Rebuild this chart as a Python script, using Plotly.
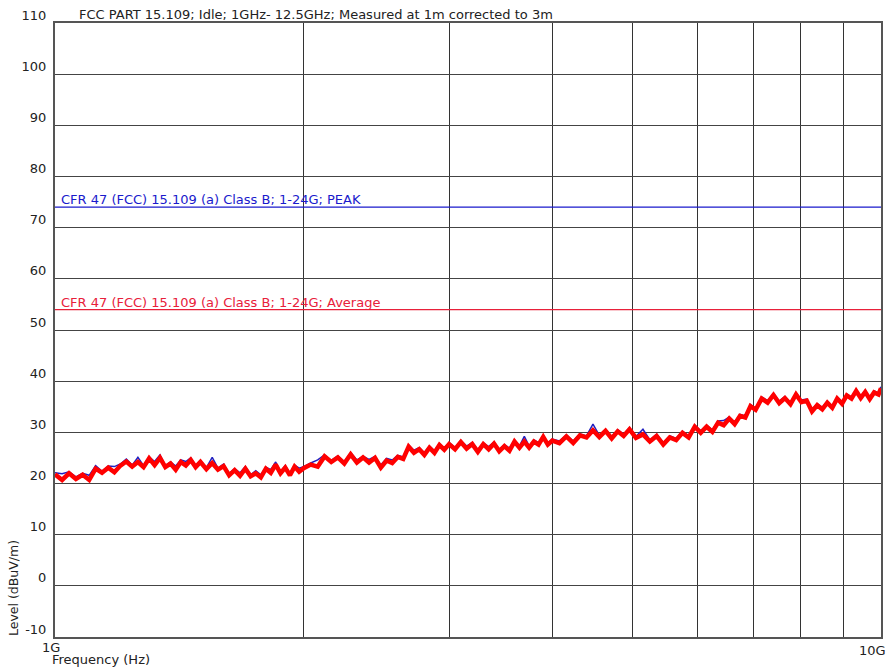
import plotly.graph_objects as go

# ---------------- data ----------------
freq_ghz = [
    1.00, 1.02, 1.04, 1.06, 1.08, 1.10, 1.12, 1.14, 1.16, 1.18, 1.20, 1.22, 1.24,
    1.26, 1.28, 1.30, 1.32, 1.34, 1.36, 1.38, 1.40, 1.42, 1.44, 1.46, 1.48, 1.50,
    1.525, 1.55, 1.575, 1.60, 1.625, 1.65, 1.675, 1.70, 1.725, 1.75, 1.775, 1.80,
    1.825, 1.85, 1.875, 1.90, 1.925, 1.95, 1.975, 2.00,
    2.04, 2.08, 2.12, 2.16, 2.20, 2.24, 2.28, 2.32, 2.36, 2.40, 2.44, 2.48, 2.52,
    2.56, 2.60, 2.64, 2.68, 2.72, 2.76, 2.80, 2.84, 2.88, 2.92, 2.96, 3.00,
    3.05, 3.10, 3.15, 3.20, 3.25, 3.30, 3.35, 3.40, 3.45, 3.50, 3.55, 3.60, 3.65,
    3.70, 3.75, 3.80, 3.85, 3.90, 3.95, 4.00,
    4.08, 4.16, 4.24, 4.32, 4.40, 4.48, 4.56, 4.64, 4.72, 4.80, 4.88, 4.96,
    5.05, 5.15, 5.25, 5.35, 5.45, 5.55, 5.65, 5.75, 5.85, 5.95, 6.05, 6.15, 6.25,
    6.35, 6.45, 6.55, 6.65, 6.75, 6.85, 6.95,
    7.05, 7.17, 7.29, 7.41, 7.53, 7.65, 7.77, 7.89, 8.01, 8.13, 8.25, 8.37, 8.49,
    8.61, 8.73, 8.85, 8.97, 9.09, 9.21, 9.33, 9.45, 9.57, 9.69, 9.81, 9.93, 10.0,
]

average_level = [
    21.8, 20.7, 22.0, 20.9, 21.7, 20.7, 22.9, 22.1, 23.1, 22.2, 23.5, 24.3, 23.3,
    24.2, 23.2, 24.9, 23.6, 25.0, 23.2, 23.9, 22.7, 24.2, 23.5, 24.6, 23.2, 24.2,
    22.8, 24.0, 22.7, 23.4, 21.6, 22.6, 21.5, 22.9, 21.4, 22.0, 21.2, 22.9,
    22.1, 23.7, 22.0, 23.1, 21.6, 23.3, 22.3, 23.0,
    23.7, 23.3, 25.3, 24.2, 25.1, 23.9, 25.7, 24.1, 25.1, 24.1, 25.0, 23.1, 24.5,
    24.0, 25.2, 24.8, 27.2, 26.0, 26.7, 25.6, 27.0, 26.0, 27.5, 26.6, 27.7,
    26.7, 28.1, 26.8, 27.7, 26.2, 27.7, 26.7, 27.8, 26.3, 27.3, 26.4, 28.2, 27.0,
    28.2, 27.0, 28.2, 27.6, 29.1, 27.6, 28.4,
    27.9, 29.2, 27.9, 29.4, 29.0, 30.4, 29.1, 30.3, 28.8, 30.2, 29.3, 30.6,
    28.9, 29.6, 28.2, 29.3, 27.6, 29.0, 28.5, 29.9, 29.0, 31.1, 29.9, 31.1, 30.1,
    31.9, 31.4, 32.7, 31.6, 33.2, 32.9, 35.1,
    34.4, 36.6, 35.8, 37.3, 35.7, 36.7, 35.5, 37.4, 35.9, 36.2, 34.1, 35.3, 34.5,
    35.8, 34.8, 36.6, 35.6, 37.2, 36.6, 38.1, 36.7, 37.9, 36.5, 37.8, 37.4, 38.6,
]

peak_level = [
    22.1, 21.9, 22.3, 21.3, 22.0, 21.6, 23.5, 22.4, 23.4, 23.3, 23.8, 24.8, 23.6,
    25.1, 23.5, 25.2, 24.3, 25.6, 23.5, 24.2, 23.4, 24.6, 24.3, 25.0, 23.5, 24.5,
    23.1, 25.1, 23.0, 23.8, 22.0, 22.9, 22.1, 23.3, 21.7, 22.5, 21.7, 23.2,
    22.7, 24.2, 22.3, 23.5, 22.0, 23.6, 23.0, 23.3,
    24.0, 24.6, 25.6, 24.5, 25.4, 24.3, 26.0, 24.6, 25.3, 24.7, 25.3, 23.6, 24.9,
    24.6, 25.5, 25.2, 27.5, 26.5, 27.0, 26.0, 27.3, 26.4, 27.8, 26.9, 28.0,
    27.0, 28.4, 27.3, 28.0, 26.6, 27.9, 27.2, 28.1, 26.7, 27.6, 26.9, 28.5, 27.3,
    29.2, 27.3, 28.5, 28.0, 29.4, 27.9, 28.7,
    28.3, 29.5, 28.3, 29.7, 29.3, 31.6, 29.4, 30.6, 29.2, 30.5, 29.6, 30.9,
    29.2, 30.6, 28.5, 29.6, 28.0, 29.3, 28.8, 30.2, 29.3, 31.4, 30.3, 31.4, 30.5,
    32.2, 32.3, 33.0, 32.0, 33.5, 33.2, 35.4,
    34.7, 36.9, 36.2, 37.6, 36.1, 37.0, 35.8, 37.7, 36.3, 36.5, 34.5, 35.6, 34.9,
    36.1, 35.1, 36.9, 36.0, 37.5, 36.9, 38.4, 37.0, 38.2, 36.8, 38.1, 37.7, 38.9,
]

limit_names = ["CFR 47 (FCC) 15.109 (a) Class B; 1-24G; PEAK",
               "CFR 47 (FCC) 15.109 (a) Class B; 1-24G; Average"]
limit_values = [74, 54]
limit_colors = ["#1a1acc", "#e8203a"]

x_grid = [1, 2, 3, 4, 5, 6, 7, 8, 9, 10]
x_tick_labels = ["1G", "10G"]
y_ticks = list(range(-10, 111, 10))
y_tick_labels = [str(v) for v in y_ticks]

title_text = "FCC PART 15.109; Idle; 1GHz- 12.5GHz; Measured at 1m corrected to 3m"
x_title = "Frequency (Hz)"
y_title = "Level (dBuV/m)"

# ---------------- figure ----------------
FONT = "DejaVu Sans"
FS = 13
TXT = "#222"
fig = go.Figure()

for name, val, col in zip(limit_names, limit_values, limit_colors):
    fig.add_trace(go.Scatter(x=[x_grid[0], x_grid[-1]], y=[val, val], mode="lines",
                             line=dict(color=col, width=1.2), hoverinfo="skip",
                             showlegend=False))

fig.add_trace(go.Scatter(x=freq_ghz, y=peak_level, mode="lines",
                         line=dict(color="#2020c0", width=1.5), showlegend=False))
fig.add_trace(go.Scatter(x=freq_ghz, y=average_level, mode="lines",
                         line=dict(color="#ff0000", width=4.5), showlegend=False))

L, R, T, B = 55, 6, 23, 34
W, H = 887, 671
pw = W - L - R
ph = H - T - B

def px_x(p):
    return (p - L) / pw

def px_y(p):
    return (H - B - p) / ph

ann = []
ann.append(dict(text=title_text, x=px_x(77), y=px_y(15), xref="paper", yref="paper",
                xanchor="left", yanchor="middle", showarrow=False,
                font=dict(family=FONT, size=FS, color=TXT)))
for name, val, col in zip(limit_names, limit_values, limit_colors):
    ann.append(dict(text=name, x=px_x(60), y=val, xref="paper", yref="y",
                    xanchor="left", yanchor="bottom", showarrow=False, borderpad=0,
                    yshift=-1, font=dict(family=FONT, size=FS, color=col)))
ann.append(dict(text=x_tick_labels[0], x=px_x(51), y=px_y(647), xref="paper", yref="paper",
                xanchor="center", yanchor="middle", showarrow=False,
                font=dict(family=FONT, size=FS, color=TXT)))
ann.append(dict(text=x_tick_labels[1], x=px_x(872), y=px_y(650), xref="paper", yref="paper",
                xanchor="center", yanchor="middle", showarrow=False,
                font=dict(family=FONT, size=FS, color=TXT)))
ann.append(dict(text=x_title, x=px_x(50), y=px_y(659), xref="paper", yref="paper",
                xanchor="left", yanchor="middle", showarrow=False,
                font=dict(family=FONT, size=FS, color=TXT)))
ann.append(dict(text=y_title, x=px_x(13), y=px_y(638), xref="paper", yref="paper",
                xanchor="center", yanchor="bottom", textangle=-90, showarrow=False,
                font=dict(family=FONT, size=12.5, color=TXT)))

fig.update_layout(
    width=W, height=H,
    margin=dict(l=L, r=R, t=T, b=B, pad=0, autoexpand=False),
    paper_bgcolor="white", plot_bgcolor="white",
    annotations=ann,
    showlegend=False,
)
fig.update_xaxes(type="log", range=[0, 1], tickvals=x_grid, showticklabels=False,
                 showgrid=True, gridcolor="#333", gridwidth=1,
                 showline=True, linecolor="#555", linewidth=2, mirror=True,
                 ticks="", zeroline=False, automargin=False)
fig.update_yaxes(range=[-10, 110], tickvals=y_ticks, ticktext=y_tick_labels,
                 showgrid=True, gridcolor="#444",
                 gridwidth=1, showline=True, linecolor="#555", linewidth=2, mirror=True,
                 ticks="", zeroline=False, ticklabelshift=-8, ticklabelstandoff=4,
                 automargin=False,
                 tickfont=dict(family=FONT, size=FS, color=TXT))

fig.write_html("out.html", config={"displayModeBar": False},
               post_script="document.body.style.margin='0';")
